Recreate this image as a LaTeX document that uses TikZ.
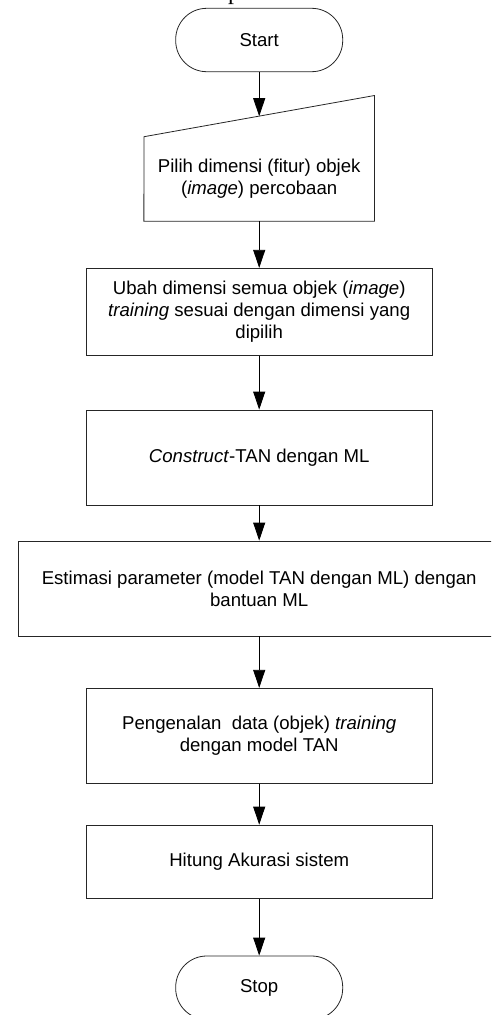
\documentclass[tikz,border=0pt]{standalone}
\usepackage{fontspec}
\setmainfont{Liberation Sans}
\newfontfamily\serifcap{Liberation Serif}
\usetikzlibrary{arrows.meta}
\begin{document}
\begin{tikzpicture}[x=1pt,y=-1pt,
  every node/.style={font=\fontsize{18.6}{22.3}\selectfont, align=center, inner sep=0pt},
  procbox/.style={draw=black!85, line width=0.8pt, minimum width=345.7pt},
  termbox/.style={draw=black!85, line width=0.8pt, rounded corners=31pt, minimum width=167pt, minimum height=63.4pt},
  flow/.style={draw=black, line width=0.8pt, -{Triangle[length=18pt,width=12pt]}}
]
\useasboundingbox (0,0) rectangle (491,1015);
\begin{scope}
\clip (0,0) rectangle (491,1015);
% clipped caption fragment at the top
\node[anchor=base west, font=\serifcap\fontsize{24}{24}\selectfont] (capfrag) at (227.8,-0.7) {p};

\node[termbox] (start) at (259.2,40) {Start};

% manual input shape
\node[minimum width=230.3pt, minimum height=125.3pt] (pilihshape) at (259.2,158.35) {};
\draw[draw=black!85, line width=0.8pt] (pilihshape.south west) -- (144,136.7) -- (pilihshape.north east) -- (pilihshape.south east) -- cycle;
\node (pilih) at (259.2,179) {Pilih dimensi (fitur) objek\\(\textit{image}) percobaan};
\coordinate (pilihtop) at (259.2,116.2);

\node[procbox, minimum height=87pt] (ubah) at (259.2,311.8) {Ubah dimensi semua objek (\textit{image})\\\textit{training} sesuai dengan dimensi yang\\dipilih};
\node[procbox, minimum height=95pt] (construct) at (259.2,457.5) {\textit{Construct}-TAN dengan ML};
\node[procbox, minimum width=481.8pt, minimum height=95pt] (estimasi) at (259.2,588.5) {Estimasi parameter (model TAN dengan ML) dengan\\bantuan ML};
\node[procbox, minimum height=95pt] (kenal) at (259.2,735.8) {Pengenalan\ \ data (objek) \textit{training}\\dengan model TAN};
\node[procbox, minimum height=73.3pt] (hitung) at (259.2,861.7) {Hitung Akurasi sistem};
\node[termbox] (stop) at (259.2,987.7) {Stop};

\draw[flow] (start.south) -- (pilihtop);
\draw[flow] (pilihshape.south) -- (ubah.north);
\draw[flow] (ubah.south) -- (construct.north);
\draw[flow] (construct.south) -- (estimasi.north);
\draw[flow] (estimasi.south) -- (kenal.north);
\draw[flow] (kenal.south) -- (hitung.north);
\draw[flow] (hitung.south) -- (stop.north);
\end{scope}
\end{tikzpicture}
\end{document}
